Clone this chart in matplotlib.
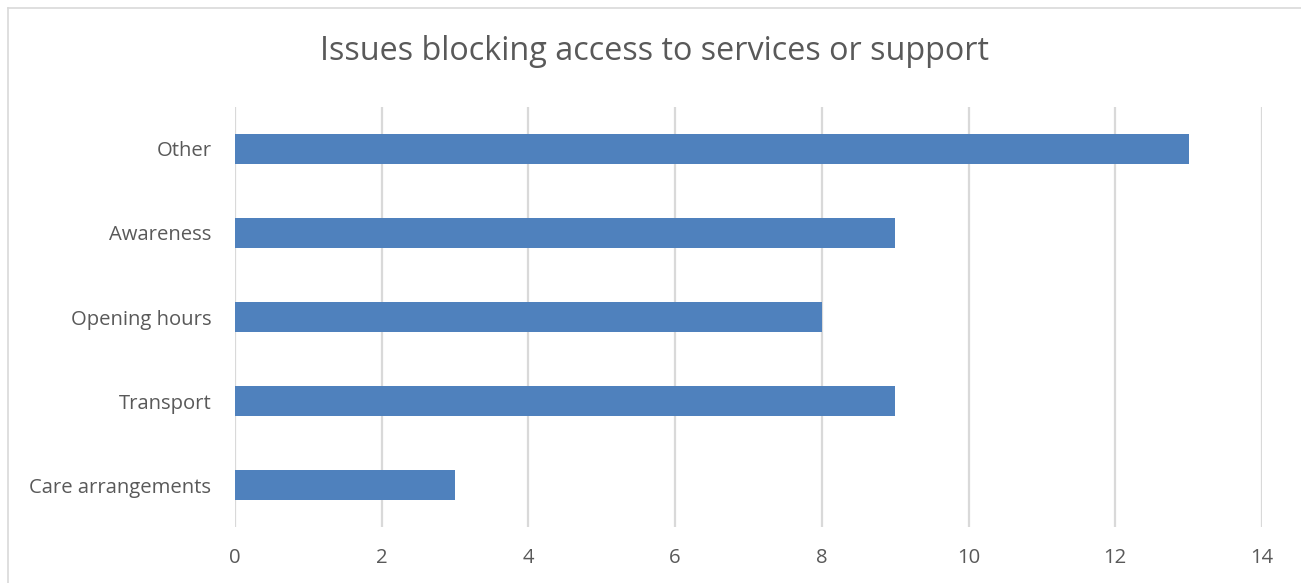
import matplotlib

matplotlib.use("Agg")
import matplotlib.pyplot as plt
from matplotlib.lines import Line2D

categories = ["Care arrangements", "Transport", "Opening hours", "Awareness", "Other"]
counts = [3, 9, 8, 9, 13]
x_ticks = [0, 2, 4, 6, 8, 10, 12, 14]

W, H, DPI = 1301, 583, 100
fig = plt.figure(figsize=(W / DPI, H / DPI), dpi=DPI)
plt.rcParams["font.family"] = ["Open Sans", "DejaVu Sans"]

# axes box in pixel terms: x 235..1262, y 107..527
ax = fig.add_axes([235 / W, 1 - 527 / H, (1262 - 235) / W, (527 - 107) / H])

ax.barh(range(len(categories)), counts, height=0.35, color="#4f81bd", zorder=3)
ax.set_xlim(0, 14)
ax.set_ylim(-0.5, len(categories) - 0.5)
ax.set_xticks(x_ticks)
ax.set_yticks(range(len(categories)))
ax.set_yticklabels(categories)
ax.grid(axis="x", color="#d9d9d9", linewidth=1.6, zorder=0)
for s in ax.spines.values():
    s.set_visible(False)
ax.tick_params(length=0, labelsize=14.6, colors="#595959")
ax.tick_params(axis="x", pad=15)
ax.tick_params(axis="y", pad=17)

fig.text(655 / W, 1 - 52 / H, "Issues blocking access to services or support",
         ha="center", va="center", fontsize=23.3, color="#595959")

# outer chart frame
fig.add_artist(Line2D([8 / W, 1], [1 - 8 / H, 1 - 8 / H], color="#d9d9d9", lw=1.2))
fig.add_artist(Line2D([8 / W, 8 / W], [0, 1 - 8 / H], color="#d9d9d9", lw=1.2))

fig.savefig("out.png", dpi=DPI)
